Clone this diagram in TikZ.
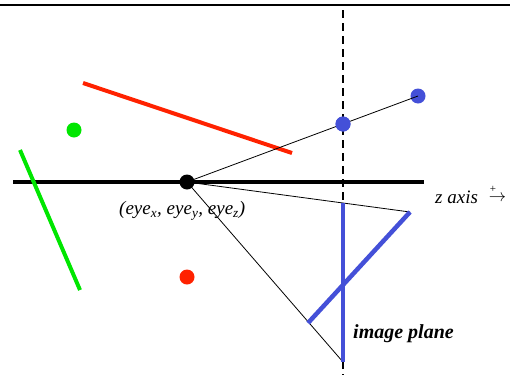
\documentclass[tikz,border=0pt]{standalone}
\usepackage{amsmath}
\usepackage{fontspec}
\setmainfont{Liberation Serif}
\definecolor{myred}{RGB}{255,34,0}
\definecolor{mygreen}{RGB}{0,230,0}
\definecolor{myblue}{RGB}{68,80,216}
\tikzset{
  thick line/.style={line width=4pt},
  thin line/.style={line width=0.8pt},
  dot/.style={circle,inner sep=0pt,minimum size=15pt},
  lbl/.style={inner sep=0pt,font=\fontsize{19}{21}\selectfont\itshape},
}
\begin{document}
\begin{tikzpicture}[x=1pt,y=-1pt]
\useasboundingbox (0,0) rectangle (510,375);
% top rule
\draw[line width=2.5pt] (0,5) -- (510,5);
% dashed vertical
\coordinate (dtop) at (343,10);
\coordinate (dbot) at (343,375);
\draw[line width=2.2pt,dash pattern=on 8pt off 5pt] (dtop) -- (dbot);
% z axis
\coordinate (axl) at (13,182);
\coordinate (axr) at (424,182);
\draw[thick line] (axl) -- (axr);
% eye
\node[dot,fill=black] (eye) at (187,182) {};
% blue points
\node[dot,fill=myblue] (b1) at (343,124) {};
\node[dot,fill=myblue] (b2) at (418,96) {};
% other dots
\node[dot,fill=mygreen] (g) at (74,130) {};
\node[dot,fill=myred] (r) at (187,277) {};
% lines
\coordinate (g1) at (20,150);
\coordinate (g2) at (80,290);
\draw[thick line,mygreen] (g1) -- (g2);
\coordinate (r1) at (83,83);
\coordinate (r2) at (292,153);
\draw[thick line,myred] (r1) -- (r2);
% image plane and object
\coordinate (vt) at (343,203);
\coordinate (vb) at (343,362);
\coordinate (dt) at (410,212);
\coordinate (db) at (308,323);
\draw[thin line] (eye.center) -- (b2.center);
\draw[thin line] (eye.center) -- (dt);
\draw[thin line] (eye.center) -- (vb);
\draw[thick line,myblue,line width=4.5pt] (vt) -- (vb);
\draw[thick line,myblue,line width=4.5pt] (dt) -- (db);
\node[dot,fill=myblue] at (b1) {};
% labels
\node[lbl,anchor=west] (eyelbl) at (119,211) {(eye\textsubscript{x}, eye\textsubscript{y}, eye\textsubscript{z})};
\node[lbl,anchor=west] (zlbl) at (435,197) {z axis};
\node[inner sep=0pt,font=\fontsize{16}{16}\selectfont] (zarr) at (497.5,198.5) {$\rightarrow$};
\node[inner sep=0pt,font=\fontsize{11}{11}\selectfont] (zplus) at (493,189.5) {+};
\node[lbl,anchor=west,font=\fontsize{20}{22}\selectfont\bfseries\itshape] (iplbl) at (353,334) {image plane};
\end{tikzpicture}
\end{document}
